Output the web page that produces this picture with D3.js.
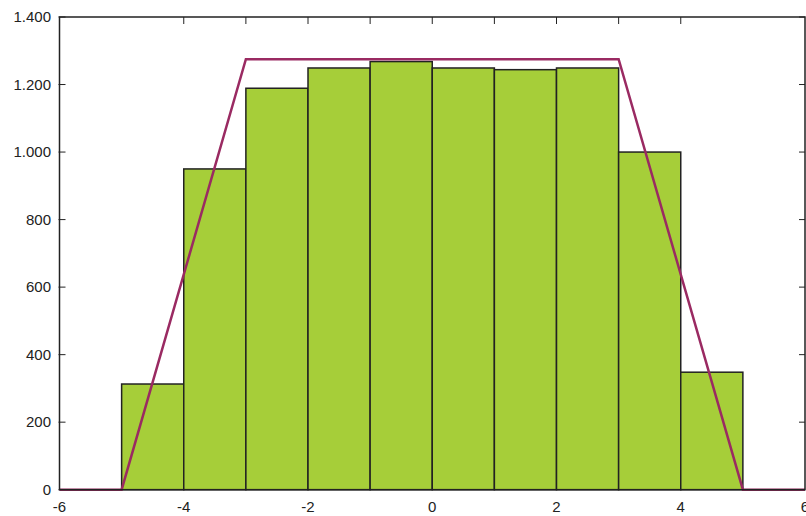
<!DOCTYPE html>
<meta charset="utf-8">
<style>
  body { margin: 0; background: #fff; }
  text { font-family: "Liberation Sans", Arial, sans-serif; font-size: 15px; fill: #222; }
</style>
<script src="https://d3js.org/d3.v7.min.js"></script>
<svg id="chart" width="806" height="516"></svg>
<script>

// histogram bins (left edge) and counts
const binStart = [-5, -4, -3, -2, -1, 0, 1, 2, 3, 4];
const counts = [313, 950, 1189, 1249, 1268, 1249, 1244, 1249, 1000, 348];

// overlay curve
const lineX = [-6, -5, -3, 3, 5, 6];
const lineY = [0, 0, 1275, 1275, 0, 0];

const xTicks = [-6, -4, -2, 0, 2, 4, 6];
const topTicks = [-4, -3, -2, -1, 0, 1, 2, 3, 4];
const yTicks = [0, 200, 400, 600, 800, 1000, 1200, 1400];

const svg = d3.select("#chart");
const pL = 59.5, pR = 805, pT = 17, pB = 489.7;

const x = d3.scaleLinear().domain([-6, 6]).range([pL, pR]);
const y = d3.scaleLinear().domain([0, 1400]).range([pB, pT]);

// german style thousands separator
const fmt = d3.formatLocale({decimal: ",", thousands: ".", grouping: [3], currency: ["", "€"]}).format(",d");

// bars
svg.append("g")
  .selectAll("rect")
  .data(binStart)
  .join("rect")
  .attr("x", (d) => x(d))
  .attr("y", (d, i) => y(counts[i]))
  .attr("width", (d) => x(d + 1) - x(d))
  .attr("height", (d, i) => y(0) - y(counts[i]))
  .attr("fill", "#a6ce39")
  .attr("stroke", "#222")
  .attr("stroke-width", 1.5);

// ticks, drawn inward like gnuplot
const ticks = svg.append("g").attr("stroke", "#222").attr("stroke-width", 1);
ticks.selectAll(".yl").data(yTicks).join("line")
  .attr("x1", pL - 1).attr("x2", pL + 6)
  .attr("y1", (d) => y(d)).attr("y2", (d) => y(d));
ticks.selectAll(".yr").data(yTicks).join("line")
  .attr("x1", pR - 6).attr("x2", pR)
  .attr("y1", (d) => y(d)).attr("y2", (d) => y(d));
ticks.selectAll(".xt").data(topTicks).join("line")
  .attr("x1", (d) => x(d)).attr("x2", (d) => x(d))
  .attr("y1", pT).attr("y2", pT + 7);

// curve
const line = d3.line().x((d) => x(d)).y((d, i) => y(lineY[i]));
svg.append("path")
  .attr("d", line(lineX))
  .attr("fill", "none")
  .attr("stroke", "#9a2a62")
  .attr("stroke-width", 2.5)
  .attr("stroke-linejoin", "miter");

// frame
svg.append("rect")
  .attr("x", pL).attr("y", pT)
  .attr("width", pR - pL).attr("height", pB - pT)
  .attr("fill", "none")
  .attr("stroke", "#222")
  .attr("stroke-width", 1.5);

// labels
svg.append("g").selectAll("text").data(yTicks).join("text")
  .attr("x", 51).attr("y", (d) => y(d) + 5)
  .attr("text-anchor", "end")
  .text((d) => fmt(d));

svg.append("g").selectAll("text").data(xTicks).join("text")
  .attr("x", (d) => x(d)).attr("y", 512)
  .attr("text-anchor", "middle")
  .text((d) => d);

</script>
